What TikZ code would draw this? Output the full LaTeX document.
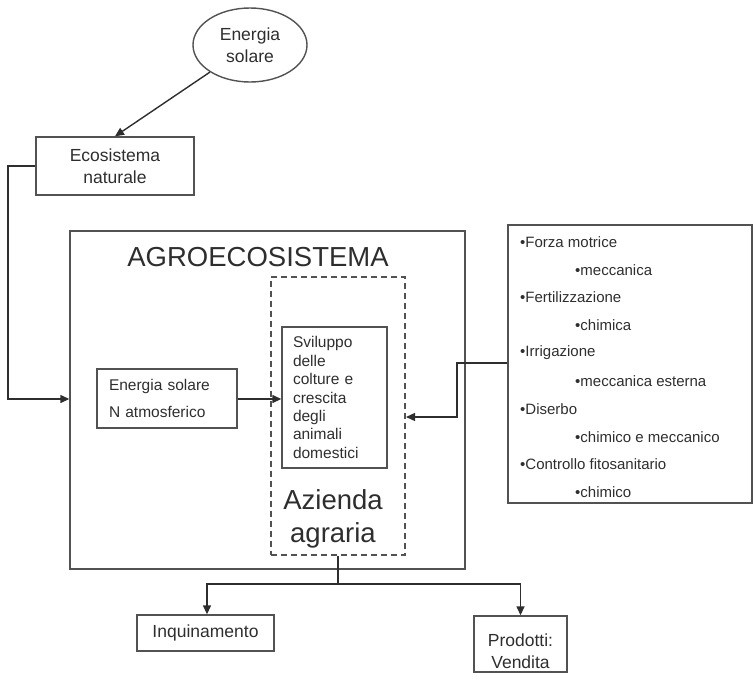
\documentclass[tikz,border=0pt]{standalone}
\usepackage{fontspec}
\setmainfont{Liberation Sans}
\usetikzlibrary{shapes.geometric,arrows.meta}
\definecolor{ink}{rgb}{0.18,0.18,0.18}
\definecolor{edge}{rgb}{0.32,0.32,0.32}
\tikzset{
  boxnode/.style={draw=edge, line width=1.4pt, rectangle, inner sep=0pt, text=ink},
  conn/.style={draw=ink, line width=1.4pt},
  arr/.style={conn, -{Triangle[length=9pt,width=8pt]}},
  fs/.style={font=\fontsize{17.5}{22}\selectfont},
  fsmall/.style={font=\fontsize{15.5}{18.4}\selectfont},
  flist/.style={font=\fontsize{15}{18}\selectfont, text=ink, inner sep=0pt, anchor=west},
  fbig/.style={font=\fontsize{27.5}{33}\selectfont, text=ink},
}
\begin{document}
\begin{tikzpicture}[x=1pt,y=-1pt]
\useasboundingbox (0,0) rectangle (754,672);

% sun
\node[ellipse, draw=edge, line width=1.4pt, inner sep=0pt, minimum width=114pt, minimum height=74pt, fs, align=center, text=ink] (sun) at (250,45) {Energia\\solare};

% ecosistema
\node[boxnode, minimum width=158pt, minimum height=58pt, fs, align=center] (eco) at (115,166) {Ecosistema\\naturale};

% agroecosistema
\node[boxnode, minimum width=395pt, minimum height=338pt] (agro) at (267.5,400) {};
\node[fbig, inner sep=0pt] (agrotitle) at (258,257) {AGROECOSISTEMA};

% azienda dashed
\node[draw=edge, line width=2pt, dash pattern=on 6pt off 4pt, minimum width=134pt, minimum height=278pt, inner sep=0pt] (az) at (338,416) {};
\node[fbig, align=center, inner sep=0pt] (aztxt) at (333,518.5) {Azienda\\agraria};

% energia solare box
\node[boxnode, minimum width=140pt, minimum height=59pt, font=\fontsize{15.5}{27}\selectfont, text width=116pt, inner xsep=12pt, align=left] (en) at (167,398.5) {Energia solare\\N atmosferico};

% sviluppo box
\node[boxnode, minimum width=105pt, minimum height=141pt, fsmall, text width=83pt, inner xsep=11pt, align=left] (sv) at (334.5,397.5) {Sviluppo\\delle\\colture e\\crescita\\degli\\animali\\domestici};

% inputs box
\node[boxnode, minimum width=244pt, minimum height=278pt] (inp) at (630,364) {};
\node[flist] (l1) at (520,242.3) {•Forza motrice};
\node[flist] (l2) at (575,270) {•meccanica};
\node[flist] (l3) at (520,297.3) {•Fertilizzazione};
\node[flist] (l4) at (575,325) {•chimica};
\node[flist] (l5) at (520,352.7) {•Irrigazione};
\node[flist] (l6) at (575,380.7) {•meccanica esterna};
\node[flist] (l7) at (520,409) {•Diserbo};
\node[flist] (l8) at (575,436.7) {•chimico e meccanico};
\node[flist] (l9) at (520,464) {•Controllo fitosanitario};
\node[flist] (l10) at (575,491.7) {•chimico};

% outputs
\node[boxnode, minimum width=137pt, minimum height=36pt, fs] (inq) at (205.5,633) {Inquinamento};
\node[boxnode, minimum width=93pt, minimum height=56pt] (prod) at (520.5,644) {};
\node[fs, align=center, text=ink, inner sep=0pt] (prodtxt) at (520.5,651.5) {Prodotti:\\Vendita};

% connectors
\draw[arr] (sun) -- (eco.north);
\coordinate (ecoturn) at (8,399);
\draw[arr] (eco.west) -| (ecoturn) -- (agro.west |- ecoturn);
\draw[arr] (en.east |- 0,399) -- (sv.west |- 0,399);
\coordinate (inpturn) at (457,363);
\coordinate (inpdown) at (457,417);
\draw[arr] (inp.west |- inpturn) -- (inpturn) -- (inpdown) -- (az.east |- inpdown);
\coordinate (split) at (338,584);
\draw[conn] (az.south) -- (split);
\draw[arr] (split) -| (inq.north -| 207,0);
\draw[arr] (split) -| (prod.north);
\end{tikzpicture}
\end{document}
